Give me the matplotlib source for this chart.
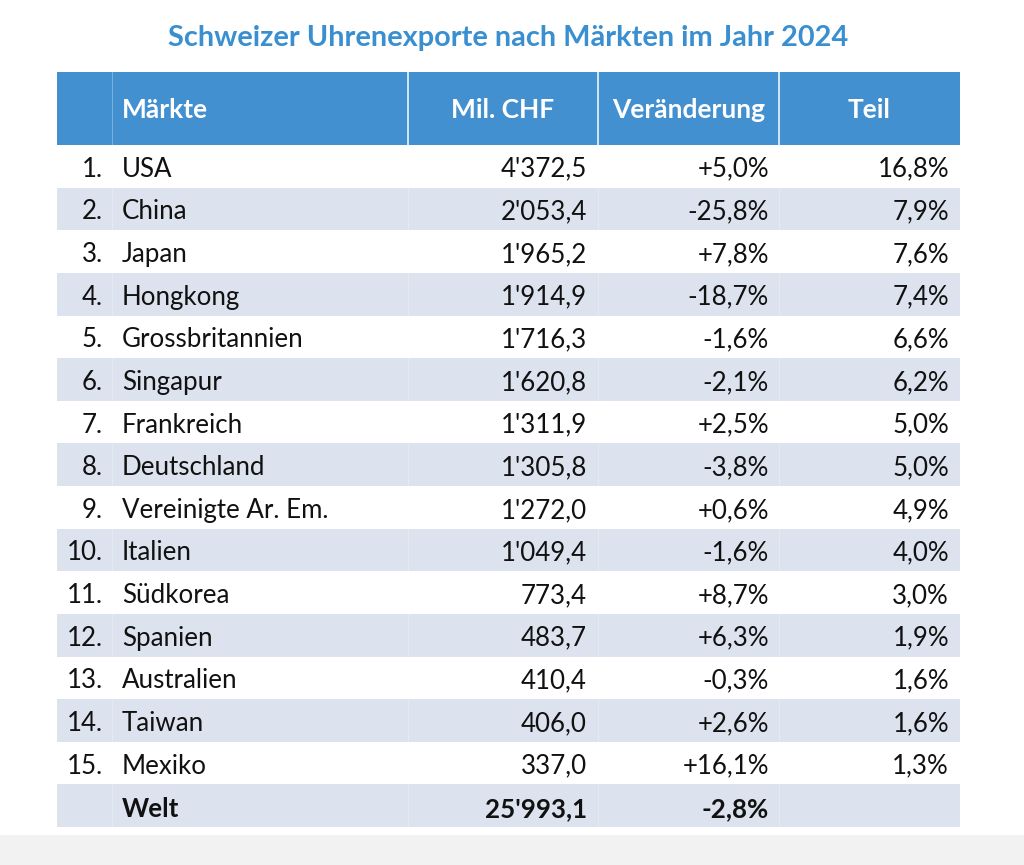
import matplotlib
matplotlib.use("Agg")
import matplotlib.pyplot as plt
from matplotlib.patches import Rectangle

plt.rcParams["font.family"] = ["Lato", "DejaVu Sans"]

TITLE = "Schweizer Uhrenexporte nach Märkten im Jahr 2024"
HEADERS = ["Märkte", "Mil. CHF", "Veränderung", "Teil"]

markets = ["USA", "China", "Japan", "Hongkong", "Grossbritannien", "Singapur",
           "Frankreich", "Deutschland", "Vereinigte Ar. Em.", "Italien",
           "Südkorea", "Spanien", "Australien", "Taiwan", "Mexiko"]
mio_chf = [4372.5, 2053.4, 1965.2, 1914.9, 1716.3, 1620.8, 1311.9, 1305.8,
           1272.0, 1049.4, 773.4, 483.7, 410.4, 406.0, 337.0]
change_pct = [5.0, -25.8, 7.8, -18.7, -1.6, -2.1, 2.5, -3.8, 0.6, -1.6,
              8.7, 6.3, -0.3, 2.6, 16.1]
share_pct = [16.8, 7.9, 7.6, 7.4, 6.6, 6.2, 5.0, 5.0, 4.9, 4.0, 3.0, 1.9,
             1.6, 1.6, 1.3]
world_label = "Welt"
world_total = 25993.1
world_change = -2.8

HEADER_BLUE = "#4390d0"
TITLE_BLUE = "#3a8fd0"
BAND = "#dce3ee"


def fmt_chf(v):
    s = f"{v:,.1f}"
    return s.replace(",", "'").replace(".", ",")


def fmt_change(v):
    return f"{v:+.1f}%".replace(".", ",")


def fmt_share(v):
    return f"{v:.1f}%".replace(".", ",")


W, H = 1024, 865
fig = plt.figure(figsize=(W / 100, H / 100), dpi=100)
ax = fig.add_axes([0, 0, 1, 1])
ax.set_xlim(0, W)
ax.set_ylim(H, 0)
ax.axis("off")

# table geometry (pixels)
left, right = 57, 960
head_top, head_bot = 72, 145
n_rows = len(markets) + 1
row_h = (827 - head_bot) / n_rows
col_edges = [left, 112, 408, 598, 779, right]

# bottom grey strip
ax.add_patch(Rectangle((0, 835), W, H - 835, color="#f2f2f2", lw=0))

ax.text(508, 38, TITLE, ha="center", va="center", fontsize=20.8,
        fontweight="bold", color=TITLE_BLUE)

# header
ax.add_patch(Rectangle((left, head_top), right - left, head_bot - head_top,
                       color=HEADER_BLUE, lw=0))
for x in col_edges[1:-1]:
    ax.plot([x, x], [head_top, head_bot], color="white",
            lw=0.6 if x == 112 else 1.2, alpha=0.35 if x == 112 else 0.9)
hy = (head_top + head_bot) / 2 + 2
ax.text(122, hy, HEADERS[0], ha="left", va="center", fontsize=19,
        fontweight="bold", color="white")
for i, label in enumerate(HEADERS[1:], start=2):
    cx = (col_edges[i] + col_edges[i + 1]) / 2
    ax.text(cx, hy, label, ha="center", va="center", fontsize=19,
            fontweight="bold", color="white")

# rows
rows = [(f"{i + 1}.", m, fmt_chf(v), fmt_change(c), fmt_share(s), "normal")
        for i, (m, v, c, s) in enumerate(zip(markets, mio_chf, change_pct, share_pct))]
rows.append(("", world_label, fmt_chf(world_total), fmt_change(world_change).replace("+", ""), "", "bold"))

for i, (rank, name, val, chg, shr, weight) in enumerate(rows):
    top = head_bot + i * row_h
    if i % 2 == 1:
        ax.add_patch(Rectangle((left, top), right - left, row_h, color=BAND, lw=0))
        for x in col_edges[1:-1]:
            ax.plot([x, x], [top, top + row_h], color="white", lw=0.6, alpha=0.3)
    y = top + row_h / 2 + 3
    kw = dict(va="center", fontsize=18.6, color="#111111", fontweight=weight)
    ax.text(103, y, rank, ha="right", **kw)
    ax.text(122, y, name, ha="left", **kw)
    ax.text(587, y, val, ha="right", **kw)
    ax.text(769, y, chg, ha="right", **kw)
    ax.text(949, y, shr, ha="right", **kw)

fig.savefig("out.png", dpi=100)
